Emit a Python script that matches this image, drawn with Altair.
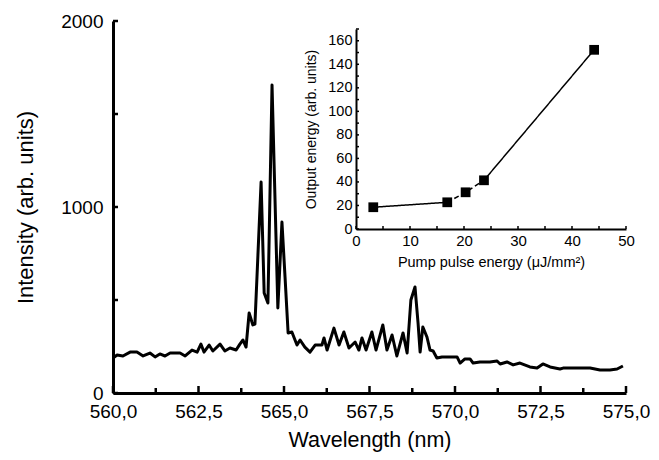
import altair as alt
import pandas as pd

# ---- main spectrum ----
wavelength = [560.00, 560.12, 560.29, 560.50, 560.70, 560.88, 561.08, 561.23, 561.37, 561.52,
              561.67, 561.96, 562.11, 562.31, 562.46, 562.57, 562.66, 562.81, 562.92, 563.13,
              563.27, 563.42, 563.60, 563.71, 563.80, 563.89, 563.98, 564.09, 564.15, 564.33,
              564.42, 564.53, 564.65, 564.82, 564.94, 565.03, 565.12, 565.23, 565.38, 565.47,
              565.61, 565.76, 565.91, 566.11, 566.17, 566.26, 566.46, 566.61, 566.75, 566.90,
              567.08, 567.19, 567.28, 567.40, 567.57, 567.69, 567.89, 568.01, 568.16, 568.30,
              568.48, 568.60, 568.71, 568.83, 568.92, 568.98, 569.06, 569.18, 569.27, 569.36,
              569.47, 569.62, 569.85, 570.06, 570.15, 570.29, 570.44, 570.53, 570.73, 571.02,
              571.23, 571.32, 571.52, 571.70, 571.90, 572.19, 572.40, 572.57, 572.78, 573.07,
              573.16, 573.51, 573.95, 574.24, 574.53, 574.74, 574.91]
intensity = [188, 204, 199, 220, 220, 199, 215, 194, 210, 199,
             215, 215, 199, 231, 220, 263, 220, 258, 226, 263,
             226, 242, 231, 263, 285, 247, 430, 366, 370, 1134,
             538, 484, 1656, 457, 919, 624, 323, 328, 258, 285,
             247, 220, 258, 258, 296, 231, 349, 258, 328, 242,
             274, 231, 296, 231, 328, 231, 366, 231, 312, 199,
             323, 215, 500, 570, 376, 220, 355, 301, 231, 226,
             188, 194, 194, 194, 161, 183, 183, 161, 167, 167,
             172, 156, 167, 151, 161, 140, 134, 156, 140, 129,
             134, 134, 134, 124, 124, 129, 145]

# ---- inset ----
pump_energy = [3.2, 16.9, 20.3, 23.7, 44.1]
output_energy = [18.5, 22.7, 31.2, 41.4, 152.3]
segments = [("a", "solid", [0, 1]), ("b", "dashed", [1, 2, 3]), ("c", "solid", [3, 4])]

# ---- axis ticks / labels ----
x_major = [560.0, 562.5, 565.0, 567.5, 570.0, 572.5, 575.0]
x_minor = [561.25, 563.75, 566.25, 568.75, 571.25, 573.75]
y_ticks = [0, 500, 1000, 1500, 2000]
y_labels = [0, 1000, 2000]
inset_x_labels = [0, 10, 20, 30, 40, 50]
inset_x_ticks = [0, 5, 10, 15, 20, 25, 30, 35, 40, 45, 50]
inset_y_labels = [0, 20, 40, 60, 80, 100, 120, 140, 160]
inset_y_ticks = [0, 10, 20, 30, 40, 50, 60, 70, 80, 90, 100, 110, 120, 130, 140, 150, 160, 170]

FONT = "Liberation Sans"
W, H = 513, 372

spec = pd.DataFrame({"wl": wavelength, "I": intensity})
xs = alt.Scale(domain=[560, 575], nice=False, zero=False)
ys = alt.Scale(domain=[0, 2000], nice=False)

x_axis = alt.Axis(
    values=x_major, ticks=False, domainWidth=3, domainColor="black",
    labelExpr="replace(format(datum.value, '.1f'), '.', ',')",
    labelFontSize=19, labelPadding=9, labelFlush=False,
    title="Wavelength (nm)", titleFontSize=21.5, titlePadding=8)
y_axis = alt.Axis(
    values=y_labels, ticks=False, domainWidth=3, domainColor="black", format="d",
    labelFontSize=19, labelPadding=10, labelFlush=False,
    title="Intensity (arb. units)", titleFontSize=22, titlePadding=23)

main_line = alt.Chart(spec).mark_line(color="black", strokeWidth=3, strokeJoin="round").encode(
    x=alt.X("wl:Q", scale=xs, axis=x_axis),
    y=alt.Y("I:Q", scale=ys, axis=y_axis),
)
major_tk = alt.Chart(pd.DataFrame({"wl": x_major})).mark_rule(color="black", strokeWidth=2.5).encode(
    x=alt.X("wl:Q", scale=xs, axis=x_axis), y=alt.value(H), y2=alt.value(H - 7))
minor_tk = alt.Chart(pd.DataFrame({"wl": x_minor})).mark_rule(color="black", strokeWidth=2.5).encode(
    x=alt.X("wl:Q", scale=xs, axis=x_axis), y=alt.value(H), y2=alt.value(H - 5))
y_tk = alt.Chart(pd.DataFrame({"I": y_ticks})).mark_rule(color="black", strokeWidth=2.5).encode(
    y=alt.Y("I:Q", scale=ys, axis=y_axis), x=alt.value(0), x2=alt.value(5))

main = alt.layer(main_line, major_tk, minor_tk, y_tk)

rows = []
for seg, style, idx in segments:
    for i in idx:
        rows.append({"pump": pump_energy[i], "out": output_energy[i], "seg": seg, "style": style, "k": i})
inset_lines_df = pd.DataFrame(rows)
inset_pts_df = pd.DataFrame({"pump": pump_energy, "out": output_energy})

ixs = alt.Scale(domain=[0, 50], range=[243, 513], nice=False, zero=False)
iys = alt.Scale(domain=[0, 170], range=[208, 8], nice=False)

ix_axis = alt.Axis(
    orient="bottom", offset=-(H - 208), values=inset_x_labels, ticks=False,
    domainWidth=2, domainColor="black", labelFontSize=15, labelPadding=4, labelFlush=False,
    title="Pump pulse energy (μJ/mm²)", titleFontSize=14.5, titlePadding=7)
iy_axis = alt.Axis(
    orient="left", offset=-243, values=inset_y_labels, ticks=False,
    domainWidth=2, domainColor="black", labelFontSize=14.5, labelPadding=4, labelFlush=False,
    title="Output energy (arb. units)", titleFontSize=14, titlePadding=9)

inset_line = alt.Chart(inset_lines_df).mark_line(color="black", strokeWidth=1.5).encode(
    x=alt.X("pump:Q", scale=ixs, axis=ix_axis),
    y=alt.Y("out:Q", scale=iys, axis=iy_axis),
    detail="seg:N",
    order="k:Q",
    strokeDash=alt.StrokeDash("style:N", scale=alt.Scale(domain=["solid", "dashed"], range=[[1, 0], [5, 3]]), legend=None),
)
inset_pts = alt.Chart(inset_pts_df).mark_square(size=95, color="black", opacity=1).encode(
    x=alt.X("pump:Q", scale=ixs, axis=ix_axis), y=alt.Y("out:Q", scale=iys, axis=iy_axis))
ix_tk = alt.Chart(pd.DataFrame({"pump": inset_x_ticks})).mark_rule(color="black", strokeWidth=1.5).encode(
    x=alt.X("pump:Q", scale=ixs, axis=ix_axis), y=alt.value(208), y2=alt.value(205))
iy_tk = alt.Chart(pd.DataFrame({"out": inset_y_ticks})).mark_rule(color="black", strokeWidth=1.5).encode(
    y=alt.Y("out:Q", scale=iys, axis=iy_axis), x=alt.value(243), x2=alt.value(246))

inset = alt.layer(inset_line, inset_pts, ix_tk, iy_tk)

chart = alt.layer(main, inset).resolve_scale(x="independent", y="independent").properties(
    width=W, height=H,
    autosize=alt.AutoSizeParams(type="none"),
    padding={"left": 105, "top": 13, "right": 25, "bottom": 59},
    background="white",
).configure_view(stroke=None).configure_axis(
    labelFont=FONT, titleFont=FONT, labelColor="black", titleColor="black",
    titleFontWeight="normal", grid=False,
)

chart.save("out.html", embed_options={"renderer": "svg", "actions": False})
